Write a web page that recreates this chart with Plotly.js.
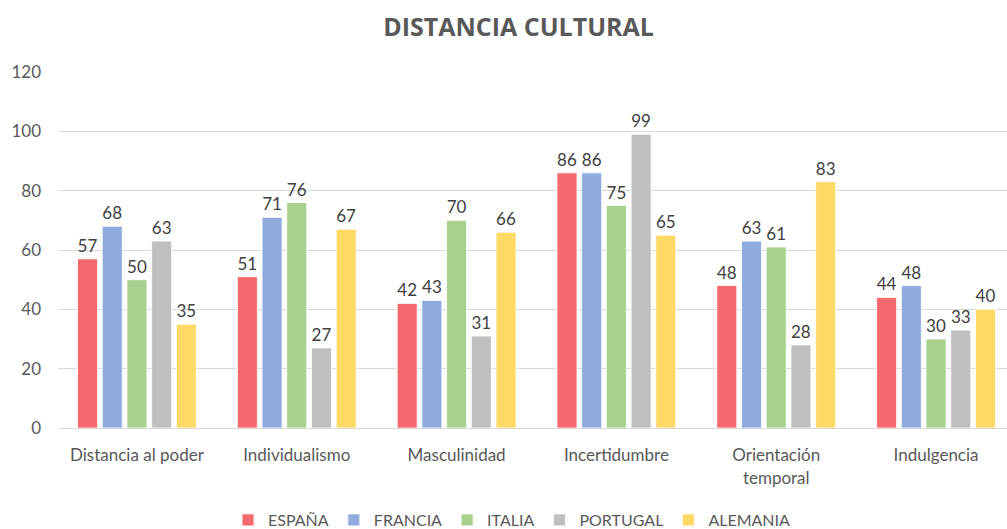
<!DOCTYPE html>
<html><head><meta charset="utf-8">
<script src="https://cdn.plot.ly/plotly-3.0.1.min.js"></script>
<style>body{margin:0;background:#fff}#chart{width:1007px;height:529px}</style>
</head><body><div id="chart"></div>
<script>
const categories = ["Distancia al poder","Individualismo","Masculinidad","Incertidumbre","Orientación<br>temporal","Indulgencia"];
const seriesNames = ["ESPAÑA","FRANCIA","ITALIA","PORTUGAL","ALEMANIA"];
const espana   = [57, 51, 42, 86, 48, 44];
const francia  = [68, 71, 43, 86, 63, 48];
const italia   = [50, 76, 70, 75, 61, 30];
const portugal = [63, 27, 31, 99, 28, 33];
const alemania = [35, 67, 66, 65, 83, 40];
const colors = ["#F4696E","#8FAADC","#A9D18E","#BFBFBF","#FFD966"];
const values = [espana, francia, italia, portugal, alemania];
const font = "Lato, sans-serif";
const traces = values.map((v,i)=>({
  type:'bar', name:seriesNames[i], x:categories, y:v,
  marker:{color:colors[i], line:{color:'#ffffff', width:0.8}},
  text:v.map(String), textposition:'outside', cliponaxis:false,
  textfont:{size:17, color:'#404040', family:font}
}));
Plotly.newPlot('chart', traces, {
  width:1007, height:529,
  margin:{l:58, r:0, t:72, b:101},
  title:{text:'<b>DISTANCIA CULTURAL</b>', x:0.515, xanchor:'center', y:0.948, yanchor:'middle', yref:'container',
    font:{size:25, color:'#595959', family:"'Open Sans', sans-serif"}},
  barmode:'group', bargap:0.227, bargroupgap:0.19,
  yaxis:{range:[0,120], dtick:20, gridcolor:'#D9D9D9', gridwidth:1, zeroline:false,
    tickfont:{size:17, color:'#595959', family:font}, ticks:'', ticklabelstandoff:16, automargin:false},
  xaxis:{range:[-0.494,5.444], showline:true, linecolor:'#D9D9D9', tickfont:{size:17, color:'#595959', family:font},
    ticks:'', ticklabelstandoff:12, automargin:false},
  showlegend:true,
  legend:{orientation:'h', x:0.508, xanchor:'center', xref:'container', y:0.017, yanchor:'middle', yref:'container',
    font:{size:16, color:'#595959', family:font}, traceorder:'normal', itemwidth:30},
  plot_bgcolor:'#fff', paper_bgcolor:'#fff'
}, {displayModeBar:false});
</script></body></html>
